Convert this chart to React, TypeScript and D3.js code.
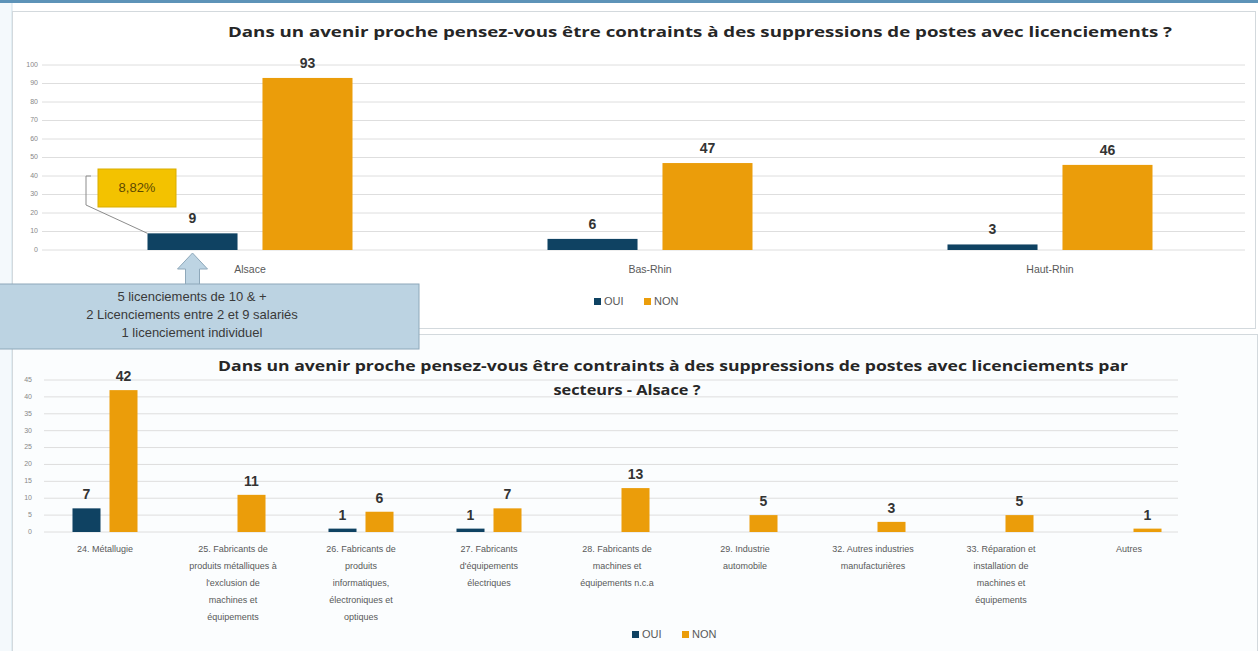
import React from 'react'
import * as d3 from 'd3'

// top chart: by territory
const regions = ['Alsace', 'Bas-Rhin', 'Haut-Rhin']
const regionOui = [9, 6, 3]
const regionNon = [93, 47, 46]
const topTicks = d3.range(0, 101, 10)

// bottom chart: by sector (Alsace)
const sectorLabels = [
  ['24. Métallugie'],
  ['25. Fabricants de', 'produits métalliques à', "l'exclusion de", 'machines et', 'équipements'],
  ['26. Fabricants de', 'produits', 'informatiques,', 'électroniques et', 'optiques'],
  ['27. Fabricants', "d'équipements", 'électriques'],
  ['28. Fabricants de', 'machines et', 'équipements n.c.a'],
  ['29. Industrie', 'automobile'],
  ['32. Autres industries', 'manufacturières'],
  ['33. Réparation et', 'installation de', 'machines et', 'équipements'],
  ['Autres'],
]
const sectorOui = [7, 0, 1, 1, 0, 0, 0, 0, 0]
const sectorNon = [42, 11, 6, 7, 13, 5, 3, 5, 1]
const bottomTicks = d3.range(0, 46, 5)

const series = ['OUI', 'NON']
const annotationPct = '8,82%'
const annotationLines = [
  '5 licenciements de 10 & +',
  '2 Licenciements entre  2 et 9 salariés',
  '1 licenciement individuel',
]
const topTitle = 'Dans un avenir proche pensez-vous être contraints à des suppressions de postes avec licenciements  ?'
const bottomTitle = [
  'Dans un avenir proche pensez-vous être contraints à des suppressions de postes avec licenciements par',
  'secteurs - Alsace ?',
]

const W = 1258
const H = 651
const OUI_COLOR = '#0f4262'
const NON_COLOR = '#eb9d0a'
const GRID = '#dedede'
const TITLE_FONT = '"Open Sans", "DejaVu Sans", sans-serif'
const LABEL_FONT = '"Liberation Sans", Arial, sans-serif'

function Legend({ x, y }: { x: number; y: number }) {
  return (
    <g transform={`translate(${x},${y})`} fontFamily={LABEL_FONT} fontSize={11} fill="#595959">
      <rect x={0} y={-4} width={7} height={7} fill={OUI_COLOR} />
      <text x={10} y={0} dominantBaseline="middle">OUI</text>
      <rect x={50} y={-4} width={7} height={7} fill={NON_COLOR} />
      <text x={60} y={0} dominantBaseline="middle">NON</text>
    </g>
  )
}

export default function App() {
  // ---- top chart scales
  const xTop = d3.scaleBand<string>().domain(regions).range([50, 1250])
  const xTopInner = d3.scaleBand<string>().domain(series)
    .range([0, xTop.bandwidth()]).paddingInner(0.217).paddingOuter(0.848)
  const yTop = d3.scaleLinear().domain([0, 100]).range([250, 65])

  // ---- bottom chart scales
  const idx = sectorLabels.map((_, i) => String(i))
  const xBot = d3.scaleBand<string>().domain(idx).range([41, 1193])
  const xBotInner = d3.scaleBand<string>().domain(series)
    .range([0, xBot.bandwidth()]).paddingInner(0.243).paddingOuter(0.851)
  const yBot = d3.scaleLinear().domain([0, 45]).range([532, 380])

  const topData = regions.map((r, i) => ({ cat: r, values: [regionOui[i], regionNon[i]] }))
  const botData = idx.map((c, i) => ({ cat: c, values: [sectorOui[i], sectorNon[i]] }))

  // annotation anchors, from the Alsace OUI bar
  const aBarX = xTop('Alsace')! + xTopInner('OUI')!
  const aBarTop = yTop(regionOui[0])
  const aBarMid = aBarX + xTopInner.bandwidth() / 2
  const aBase = yTop(0)

  return (
    <svg width={W} height={H} style={{ position: 'absolute', left: 0, top: 0, background: '#fff' }}>
      {/* frames */}
      <rect x={0} y={0} width={W} height={3} fill="#5d93b8" />
      <rect x={0} y={3} width={12} height={H} fill="#f4f9fc" />
      <line x1={12} x2={12} y1={3} y2={H} stroke="#cfe0ea" />
      <rect x={12.5} y={11.5} width={1243} height={317} fill="#fff" stroke="#d3d9dd" />
      <rect x={12.5} y={334.5} width={1245} height={317} fill="#fbfdfe" stroke="#d3d9dd" />

      {/* ---------- top chart ---------- */}
      <text x={700} y={37} textAnchor="middle" fontFamily={TITLE_FONT} fontWeight={700}
        fontSize={15} fill="#262626" textLength={944} lengthAdjust="spacingAndGlyphs">{topTitle}</text>

      {topTicks.map(t => (
        <g key={t}>
          <line x1={42} x2={1245} y1={yTop(t)} y2={yTop(t)} stroke={GRID} />
          <text x={38} y={yTop(t)} textAnchor="end" dominantBaseline="middle"
            fontFamily={LABEL_FONT} fontSize={7} fill="#888">{t}</text>
        </g>
      ))}

      {topData.map(d => (
        <g key={d.cat} transform={`translate(${xTop(d.cat)},0)`}>
          {series.map((s, j) => {
            const v = d.values[j]
            return (
              <g key={s}>
                <rect x={xTopInner(s)} y={yTop(v)} width={xTopInner.bandwidth()}
                  height={yTop(0) - yTop(v)} fill={j === 0 ? OUI_COLOR : NON_COLOR} />
                <text x={xTopInner(s)! + xTopInner.bandwidth() / 2} y={yTop(v) - 10}
                  textAnchor="middle" fontFamily={LABEL_FONT} fontWeight={700} fontSize={14}
                  fill="#333">{v}</text>
              </g>
            )
          })}
          <text x={xTop.bandwidth() / 2} y={273} textAnchor="middle" fontFamily={LABEL_FONT}
            fontSize={10.5} fill="#595959">{d.cat}</text>
        </g>
      ))}

      <Legend x={594} y={302} />

      {/* callout 8,82% */}
      <path d={`M${aBarX},${aBarTop} L86,205 L86,176 L91,176`} fill="none" stroke="#8c8c8c" strokeWidth={1} />
      <rect x={98} y={169} width={78} height={38} fill="#f3c200" stroke="#d9ad00" />
      <text x={137} y={189} textAnchor="middle" dominantBaseline="middle" fontFamily={LABEL_FONT}
        fontSize={13} fill="#5e4a00">{annotationPct}</text>

      {/* block arrow to Alsace OUI */}
      <path
        d={`M${aBarMid},${aBase + 3} L${aBarMid + 15},${aBase + 19} L${aBarMid + 7},${aBase + 19}
          L${aBarMid + 7},${aBase + 35} L${aBarMid - 7},${aBase + 35} L${aBarMid - 7},${aBase + 19}
          L${aBarMid - 15},${aBase + 19} Z`}
        fill="#bdd4e3" stroke="#8ea8ba" />
      <rect x={-2} y={284} width={421} height={65} fill="#bcd3e2" stroke="#8ea8ba" />
      {annotationLines.map((l, i) => (
        <text key={i} x={192} y={298 + i * 18} textAnchor="middle" dominantBaseline="middle"
          fontFamily={LABEL_FONT} fontSize={13} fill="#3a3a3a">{l}</text>
      ))}

      {/* ---------- bottom chart ---------- */}
      {bottomTitle.map((l, i) => (
        <text key={i} x={i === 0 ? 673 : 627} y={371 + i * 24} textAnchor="middle" fontFamily={TITLE_FONT}
          fontWeight={700} fontSize={14.5} fill="#262626"
          textLength={i === 0 ? 910 : 147} lengthAdjust="spacingAndGlyphs">{l}</text>
      ))}

      {bottomTicks.map(t => (
        <g key={t}>
          <line x1={44} x2={1178} y1={yBot(t)} y2={yBot(t)} stroke={GRID} />
          <text x={32} y={yBot(t)} textAnchor="end" dominantBaseline="middle"
            fontFamily={LABEL_FONT} fontSize={7} fill="#888">{t}</text>
        </g>
      ))}

      {botData.map((d, i) => (
        <g key={d.cat} transform={`translate(${xBot(d.cat)},0)`}>
          {series.map((s, j) => {
            const v = d.values[j]
            if (v <= 0) return null
            return (
              <g key={s}>
                <rect x={xBotInner(s)} y={yBot(v)} width={xBotInner.bandwidth()}
                  height={yBot(0) - yBot(v)} fill={j === 0 ? OUI_COLOR : NON_COLOR} />
                <text x={xBotInner(s)! + xBotInner.bandwidth() / 2} y={yBot(v) - 9}
                  textAnchor="middle" fontFamily={LABEL_FONT} fontWeight={700} fontSize={14}
                  fill="#333">{v}</text>
              </g>
            )
          })}
          {sectorLabels[i].map((l, k) => (
            <text key={k} x={xBot.bandwidth() / 2} y={552 + k * 17} textAnchor="middle"
              fontFamily={LABEL_FONT} fontSize={9} fill="#595959">{l}</text>
          ))}
        </g>
      ))}

      <Legend x={632} y={635} />
    </svg>
  )
}
